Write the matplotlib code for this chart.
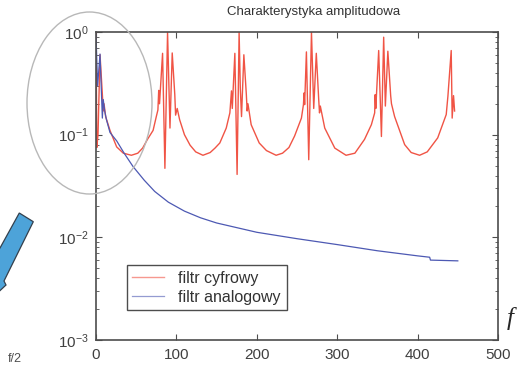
import matplotlib
matplotlib.use("Agg")
import matplotlib.pyplot as plt
from matplotlib.patches import Ellipse, Polygon

plt.rcParams['font.family'] = ['Liberation Sans', 'DejaVu Sans']
plt.rcParams['mathtext.fontset'] = 'custom'
plt.rcParams['mathtext.rm'] = 'Liberation Sans'
plt.rcParams['mathtext.it'] = 'Liberation Sans:italic'
plt.rcParams['mathtext.bf'] = 'Liberation Sans:bold'

title = "Charakterystyka amplitudowa"
legend_labels = ["filtr cyfrowy", "filtr analogowy"]
x_ticks = [0, 100, 200, 300, 400, 500]

# digital filter (red)
f_dig = [0, 1, 2.5, 5, 8, 9, 10, 12, 17.4, 25.7, 34, 44, 52, 58, 64, 71, 75, 77, 78, 79,
         82.8, 85.7, 89, 92, 94.8, 98, 99, 101, 104, 110, 117, 124, 133,
         142, 148, 154, 162, 166.5, 168.5, 169.5, 172.7, 175.5, 178, 179.5, 181, 183.9,
         187, 188, 189, 193, 203, 212, 224,
         232, 240, 247, 255.5, 258, 258.8, 259.5, 261.7, 264.6, 268, 270.8, 274,
         277, 278, 279, 284.5, 297, 311,
         322, 334, 342.5, 346.6, 347.2, 348, 351.6, 355, 357.8, 359.9, 363,
         366.5, 367.5, 371.4, 383.9, 392, 402.5, 412, 425, 435.6, 437.7, 441.8,
         443, 444.7, 446]
a_dig = [1.0, 0.075, 0.1, 0.6, 0.24, 0.17, 0.2, 0.15, 0.11, 0.076, 0.066, 0.063, 0.066, 0.074, 0.09, 0.11, 0.15, 0.174, 0.27, 0.2,
         0.62, 0.047, 1.0, 0.116, 0.625, 0.245, 0.155, 0.18, 0.14, 0.1, 0.079, 0.068, 0.063,
         0.067, 0.074, 0.083, 0.116, 0.163, 0.267, 0.18, 0.62, 0.041, 1.0, 0.28, 0.15, 0.6,
         0.245, 0.17, 0.2, 0.125, 0.083, 0.07, 0.063,
         0.066, 0.075, 0.097, 0.145, 0.196, 0.255, 0.196, 0.64, 0.057, 1.0, 0.18, 0.62,
         0.22, 0.163, 0.19, 0.116, 0.074, 0.063,
         0.066, 0.09, 0.125, 0.163, 0.245, 0.18, 0.66, 0.096, 0.89, 0.19, 0.65,
         0.24, 0.2, 0.15, 0.08, 0.067, 0.063, 0.068, 0.093, 0.157, 0.237, 0.66,
         0.145, 0.24, 0.17]

# analog filter (blue)
f_ana = [0, 2, 5, 7.9, 9, 10.8, 13, 17.4, 25.7, 35, 46, 60, 73, 90, 110, 130, 150, 200, 250,
         300, 350, 400, 415, 416, 450]
a_ana = [0.95, 0.3, 0.61, 0.145, 0.22, 0.17, 0.14, 0.105, 0.087, 0.066, 0.049, 0.036, 0.028,
         0.022, 0.018, 0.0155, 0.0138, 0.0112, 0.0097, 0.0085, 0.0074, 0.0066, 0.0064, 0.0060, 0.0059]

W, H = 529, 366
fig = plt.figure(figsize=(W / 100, H / 100), dpi=100)
ax = fig.add_axes([96 / W, 1 - 340 / H, (498 - 96) / W, (340 - 32) / H])

red = (0.94, 0.33, 0.27)
blue = (0.30, 0.35, 0.70)
ax.plot(f_dig, a_dig, color=red, lw=1.0, label=legend_labels[0])
ax.plot(f_ana, a_ana, color=blue, lw=0.9, label=legend_labels[1])

ax.set_yscale('log')
ax.set_xlim(0, 500)
ax.set_ylim(1e-3, 1e0)
ax.set_xticks(x_ticks)
ax.set_xticklabels([str(t) for t in x_ticks])

gray = (0.3, 0.3, 0.3)
for s in ax.spines.values():
    s.set_color(gray)
    s.set_linewidth(1.2)
ax.tick_params(which='both', direction='in', top=True, right=True, colors=gray,
               labelcolor=(0.25, 0.25, 0.25), labelsize=11)
ax.tick_params(which='major', length=4)
ax.tick_params(which='minor', length=2.5)
ax.tick_params(axis='x', pad=6)
ax.tick_params(axis='y', pad=5)

ax.set_title(title, fontsize=9.5, color=(0.2, 0.2, 0.2), x=0.54, pad=12)

leg = ax.legend(loc='lower left', bbox_to_anchor=(0.076, 0.097), fancybox=False,
                edgecolor=gray, framealpha=1, fontsize=11.5, handlelength=2.0,
                borderpad=0.35, labelspacing=0.25, handletextpad=0.9, borderaxespad=0)
leg.get_frame().set_linewidth(1.0)
for t in leg.get_texts():
    t.set_color((0.2, 0.2, 0.2))
for l in leg.get_lines():
    l.set_alpha(0.6)

# overlay in pixel coords
ov = fig.add_axes([0, 0, 1, 1], zorder=5)
ov.set_xlim(0, W)
ov.set_ylim(H, 0)
ov.axis('off')
ov.patch.set_alpha(0)
ov.add_patch(Ellipse((89.5, 103), 125, 182, fill=False, edgecolor=(0.72, 0.72, 0.72), lw=1.0))
ov.add_patch(Polygon([(19.3, 213), (33.3, 221.7), (4, 281), (6, 285), (-10, 300), (-10, 260), (0, 248)],
                     closed=True, facecolor=(0.30, 0.64, 0.85), edgecolor=(0.2, 0.25, 0.3), lw=0.9))
ov.text(510, 318, "f", fontsize=18, family='Liberation Serif', style='italic',
        color=(0.15, 0.15, 0.15), ha='center', va='center')
ov.text(8, 365, "f/2", fontsize=9, color=(0.3, 0.3, 0.3), ha='left', va='bottom')

fig.savefig("out.png", dpi=100)
